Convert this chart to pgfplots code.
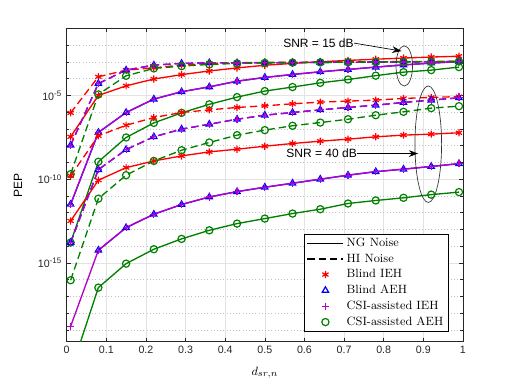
\documentclass[border=0pt]{standalone}
\usepackage{fontspec}
\setsansfont{Liberation Sans}
\usepackage{pgfplots}
\pgfplotsset{compat=1.18}
\usetikzlibrary{arrows.meta}

\definecolor{cred}{RGB}{255,0,0}
\definecolor{cblue}{RGB}{0,0,255}
\definecolor{cmag}{RGB}{180,0,200}
\definecolor{cgreen}{RGB}{0,128,0}
\definecolor{caxis}{RGB}{38,38,38}

\pgfplotsset{
  legline/.style={legend image code/.code={\draw[##1] (0pt,0pt) -- (27pt,0pt);}},
  legmark/.style={legend image code/.code={\draw[##1] plot[only marks] coordinates {(13.5pt,0pt)};}},
  ser/.style={line width=1pt, mark size=2.7pt, mark options={solid, line width=0.9pt}},
  hi/.style={dash pattern=on 5.5pt off 3pt},
}

\begin{document}
\begin{tikzpicture}
\path[use as bounding box] (-50pt,-31.7pt) rectangle (334pt,256.3pt);
\begin{axis}[
  at={(0,0)}, anchor=south west,
  width=297.2pt, height=235pt, scale only axis,
  xmin=0, xmax=1,
  ymode=log, ymin=2e-20, ymax=1e-1,
  xtick={0,0.1,0.2,0.3,0.4,0.5,0.6,0.7,0.8,0.9,1},
  ytick={1e-15,1e-10,1e-5},
  yticklabels={10\textsuperscript{-15},10\textsuperscript{-10},10\textsuperscript{-5}},
  minor ytick={1e-19,1e-18,1e-17,1e-16,1e-14,1e-13,1e-12,1e-11,1e-9,1e-8,1e-7,1e-6,1e-4,1e-3,1e-2},
  grid=both,
  major grid style={gray!22, line width=0.4pt},
  minor grid style={gray!50, dotted, line width=0.4pt},
  tick align=inside,
  major tick length=3pt, minor tick length=2pt,
  axis line style={caxis, line width=0.5pt},
  every tick/.style={caxis},
  ticklabel style={font=\sffamily\fontsize{8}{9}\selectfont, text=caxis},
  xticklabel style={/pgf/number format/assume math mode=true},
  ylabel={\sffamily\fontsize{9}{10}\selectfont PEP},
  ylabel style={at={(axis description cs:-0.123,0.5)}, anchor=center},
  xlabel={\fontsize{9.5}{10}\selectfont $d_{sr,n}$},
  xlabel style={at={(axis description cs:0.5,-0.1)}, anchor=center},
  legend style={at={(axis description cs:0.965,0.032)}, anchor=south east,
    draw=black, line width=0.5pt, font=\fontsize{9}{10}\selectfont,
    cells={anchor=west}, inner xsep=2pt, inner ysep=1pt, row sep=0pt},
]
% legend entries
\addlegendimage{legline, black, line width=1pt}
\addlegendentry{NG Noise}
\addlegendimage{legline, black, line width=1pt, hi}
\addlegendentry{HI Noise}
\addlegendimage{legmark, cred, mark=asterisk, mark size=2.7pt, line width=0.9pt}
\addlegendentry{Blind IEH}
\addlegendimage{legmark, cblue, mark=triangle, mark size=2.7pt, line width=0.9pt}
\addlegendentry{Blind AEH}
\addlegendimage{legmark, cmag, mark=+, mark size=2.7pt, line width=0.9pt}
\addlegendentry{CSI-assisted IEH}
\addlegendimage{legmark, cgreen, mark=o, mark size=2.7pt, line width=0.9pt}
\addlegendentry{CSI-assisted AEH}

% ---------- SNR = 15 dB ----------
% Blind IEH, NG
\addplot[ser, cred, mark=asterisk, forget plot] coordinates {
(0.01,3.39e-8) (0.08,1.00e-5) (0.15,3.72e-5) (0.22,9.55e-5) (0.29,1.74e-4)
(0.36,2.88e-4) (0.43,4.37e-4) (0.50,6.31e-4) (0.57,8.13e-4) (0.64,1.02e-3)
(0.71,1.23e-3) (0.78,1.45e-3) (0.85,1.70e-3) (0.92,1.95e-3) (0.99,2.19e-3)};
% Blind IEH, HI
\addplot[ser, cred, hi, mark=asterisk, forget plot] coordinates {
(0.01,9.12e-7) (0.08,1.29e-4) (0.15,3.24e-4) (0.22,4.47e-4) (0.29,6.46e-4)
(0.36,8.13e-4) (0.43,8.91e-4) (0.50,9.33e-4) (0.57,9.55e-4) (0.64,9.77e-4)
(0.71,1.00e-3) (0.78,1.02e-3) (0.85,1.05e-3) (0.92,1.07e-3) (0.99,1.10e-3)};
% Blind AEH, NG
\addplot[ser, cblue, mark=triangle, forget plot] coordinates {
(0.01,3.16e-12) (0.08,6.17e-8) (0.15,9.55e-7) (0.22,6.03e-6) (0.29,1.66e-5)
(0.36,3.24e-5) (0.43,7.08e-5) (0.50,1.18e-4) (0.57,1.78e-4) (0.64,2.57e-4)
(0.71,3.55e-4) (0.78,4.90e-4) (0.85,6.61e-4) (0.92,8.51e-4) (0.99,1.05e-3)};
% Blind AEH, HI
\addplot[ser, cblue, hi, mark=triangle, forget plot] coordinates {
(0.01,1.07e-8) (0.08,5.13e-5) (0.15,3.24e-4) (0.22,6.46e-4) (0.29,8.13e-4)
(0.36,8.91e-4) (0.43,8.71e-4) (0.50,8.91e-4) (0.57,9.12e-4) (0.64,9.33e-4)
(0.71,9.55e-4) (0.78,9.77e-4) (0.85,1.00e-3) (0.92,1.02e-3) (0.99,1.05e-3)};
% CSI-assisted IEH, NG
\addplot[ser, cmag, mark=+, forget plot] coordinates {
(0.01,3.16e-12) (0.08,6.17e-8) (0.15,9.55e-7) (0.22,6.03e-6) (0.29,1.66e-5)
(0.36,3.24e-5) (0.43,7.08e-5) (0.50,1.18e-4) (0.57,1.78e-4) (0.64,2.57e-4)
(0.71,3.55e-4) (0.78,4.90e-4) (0.85,6.61e-4) (0.92,8.51e-4) (0.99,1.05e-3)};
% CSI-assisted IEH, HI
\addplot[ser, cmag, hi, mark=+, forget plot] coordinates {
(0.01,1.07e-8) (0.08,5.13e-5) (0.15,3.24e-4) (0.22,6.46e-4) (0.29,8.13e-4)
(0.36,8.91e-4) (0.43,8.71e-4) (0.50,8.91e-4) (0.57,9.12e-4) (0.64,9.33e-4)
(0.71,9.55e-4) (0.78,9.77e-4) (0.85,1.00e-3) (0.92,1.02e-3) (0.99,1.05e-3)};
% CSI-assisted AEH, NG
\addplot[ser, cgreen, mark=o, forget plot] coordinates {
(0.01,1.66e-14) (0.08,1.10e-9) (0.15,3.09e-8) (0.22,2.29e-7) (0.29,9.12e-7)
(0.36,2.95e-6) (0.43,7.94e-6) (0.50,1.82e-5) (0.57,3.16e-5) (0.64,5.62e-5)
(0.71,8.91e-5) (0.78,1.51e-4) (0.85,2.45e-4) (0.92,3.24e-4) (0.99,4.90e-4)};
% CSI-assisted AEH, HI
\addplot[ser, cgreen, hi, mark=o, forget plot] coordinates {
(0.01,2.00e-10) (0.08,1.15e-5) (0.15,1.48e-4) (0.22,4.07e-4) (0.29,5.62e-4)
(0.36,7.08e-4) (0.43,8.13e-4) (0.50,8.71e-4) (0.57,9.12e-4) (0.64,9.33e-4)
(0.71,9.55e-4) (0.78,9.77e-4) (0.85,1.00e-3) (0.92,1.02e-3) (0.99,1.05e-3)};

% ---------- SNR = 40 dB ----------
% Blind IEH, NG
\addplot[ser, cred, mark=asterisk, forget plot] coordinates {
(0.01,3.24e-13) (0.08,8.71e-11) (0.15,4.90e-10) (0.22,1.23e-9) (0.29,2.45e-9)
(0.36,4.27e-9) (0.43,6.17e-9) (0.50,9.33e-9) (0.57,1.35e-8) (0.64,1.86e-8)
(0.71,2.45e-8) (0.78,3.39e-8) (0.85,4.27e-8) (0.92,4.90e-8) (0.99,5.89e-8)};
% Blind IEH, HI
\addplot[ser, cred, hi, mark=asterisk, forget plot] coordinates {
(0.01,1.58e-10) (0.08,3.89e-8) (0.15,1.66e-7) (0.22,4.79e-7) (0.29,9.55e-7)
(0.36,1.38e-6) (0.43,1.91e-6) (0.50,2.40e-6) (0.57,3.16e-6) (0.64,3.98e-6)
(0.71,4.57e-6) (0.78,5.25e-6) (0.85,6.61e-6) (0.92,7.59e-6) (0.99,8.51e-6)};
% Blind AEH, NG
\addplot[ser, cblue, mark=triangle, forget plot] coordinates {
(0.08,5.75e-15) (0.15,1.29e-13) (0.22,8.13e-13) (0.29,3.09e-12)
(0.36,8.71e-12) (0.43,1.82e-11) (0.50,3.31e-11) (0.57,5.75e-11) (0.64,1.00e-10)
(0.71,1.74e-10) (0.78,2.82e-10) (0.85,3.98e-10) (0.92,5.75e-10) (0.99,8.51e-10)};
% Blind AEH, HI
\addplot[ser, cblue, hi, mark=triangle, forget plot] coordinates {
(0.01,1.66e-14) (0.08,3.72e-10) (0.15,5.89e-9) (0.22,3.39e-8) (0.29,9.77e-8)
(0.36,1.91e-7) (0.43,3.80e-7) (0.50,6.61e-7) (0.57,9.55e-7) (0.64,1.38e-6)
(0.71,1.91e-6) (0.78,2.63e-6) (0.85,3.80e-6) (0.92,5.25e-6) (0.99,7.24e-6)};
% CSI-assisted IEH, NG
\addplot[ser, cmag, mark=+, forget plot] coordinates {
(0.01,1.66e-19) (0.08,5.75e-15) (0.15,1.29e-13) (0.22,8.13e-13) (0.29,3.09e-12)
(0.36,8.71e-12) (0.43,1.82e-11) (0.50,3.31e-11) (0.57,5.75e-11) (0.64,1.00e-10)
(0.71,1.74e-10) (0.78,2.82e-10) (0.85,3.98e-10) (0.92,5.75e-10) (0.99,8.51e-10)};
% CSI-assisted IEH, HI
\addplot[ser, cmag, hi, mark=+, forget plot] coordinates {
(0.01,1.66e-14) (0.08,3.72e-10) (0.15,5.89e-9) (0.22,3.39e-8) (0.29,9.77e-8)
(0.36,1.91e-7) (0.43,3.80e-7) (0.50,6.61e-7) (0.57,9.55e-7) (0.64,1.38e-6)
(0.71,1.91e-6) (0.78,2.63e-6) (0.85,3.80e-6) (0.92,5.25e-6) (0.99,7.24e-6)};
% CSI-assisted AEH, NG
\addplot[ser, cgreen, mark=o, forget plot] coordinates {
(0.01,3.16e-22) (0.08,3.39e-17) (0.15,9.12e-16) (0.22,6.61e-15) (0.29,2.75e-14)
(0.36,8.91e-14) (0.43,2.24e-13) (0.50,4.47e-13) (0.57,8.91e-13) (0.64,1.62e-12)
(0.71,3.55e-12) (0.78,5.37e-12) (0.85,7.76e-12) (0.92,1.20e-11) (0.99,1.70e-11)};
% CSI-assisted AEH, HI
\addplot[ser, cgreen, hi, mark=o, forget plot] coordinates {
(0.01,9.33e-17) (0.08,6.92e-12) (0.15,1.74e-10) (0.22,1.23e-9) (0.29,5.37e-9)
(0.36,1.55e-8) (0.43,4.27e-8) (0.50,8.51e-8) (0.57,1.55e-7) (0.64,2.40e-7)
(0.71,3.80e-7) (0.78,6.61e-7) (0.85,1.05e-6) (0.92,1.74e-6) (0.99,2.29e-6)};

% annotations
\draw[black!80, line width=0.5pt] (axis cs:0.852,5.75e-4) ellipse [x radius=6.2pt, y radius=15.1pt];
\draw[black!80, line width=0.5pt] (axis cs:0.9125,1.23e-8) ellipse [x radius=10pt, y radius=43.7pt];
\node[anchor=east, inner sep=0pt, font=\sffamily\fontsize{9}{10}\selectfont] at (axis cs:0.725,1.33e-2) {SNR = 15 dB};
\draw[-{Stealth[length=7pt,width=5pt]}, line width=0.5pt] (axis cs:0.725,1.33e-2) -- (axis cs:0.845,4.42e-3);
\node[anchor=east, inner sep=0pt, font=\sffamily\fontsize{9}{10}\selectfont] at (axis cs:0.733,3.39e-9) {SNR = 40 dB};
\draw[-{Stealth[length=7pt,width=5pt]}, line width=0.5pt] (axis cs:0.733,3.39e-9) -- (axis cs:0.887,3.39e-9);
\end{axis}
\end{tikzpicture}
\end{document}
